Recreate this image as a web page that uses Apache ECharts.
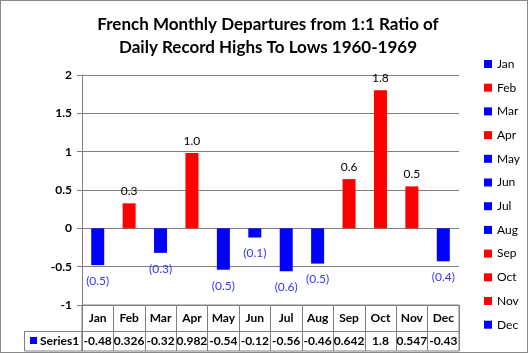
<!DOCTYPE html>
<html><head><meta charset="utf-8">
<script src="https://cdn.jsdelivr.net/npm/echarts@6/dist/echarts.min.js"></script>
<style>html,body{margin:0;padding:0;background:#fff}#c{width:528px;height:353px;box-sizing:border-box;border:1px solid #888}</style>
</head><body><div id="c"></div>
<script>
const months = ['Jan','Feb','Mar','Apr','May','Jun','Jul','Aug','Sep','Oct','Nov','Dec'];
const values = [-0.48, 0.326, -0.32, 0.982, -0.54, -0.12, -0.56, -0.46, 0.642, 1.8, 0.547, -0.43];
const tableLabels = ['-0.48','0.326','-0.32','0.982','-0.54','-0.12','-0.56','-0.46','0.642','1.8','0.547','-0.43'];
const yTicks = [-1, -0.5, 0, 0.5, 1, 1.5, 2];

const FONT = 'Lato';
const chart = echarts.init(document.getElementById('c'));
const series = months.map((m, i) => {
  const v = values[i];
  const col = v >= 0 ? '#ff0000' : '#0000ff';
  return {
    name: m, type: 'bar', stack: 'all', barWidth: 13,
    xAxisIndex: 0, yAxisIndex: 0,
    itemStyle: {color: col},
    data: months.map((_, j) => j === i ? v : '-'),
    label: {
      show: true,
      position: v >= 0 ? 'top' : 'bottom',
      distance: v >= 0 ? 6 : 10,
      color: v >= 0 ? '#000' : '#3535ff',
      fontFamily: FONT, fontSize: 12,
      formatter: p => v >= 0 ? v.toFixed(1) : '(' + Math.abs(v).toFixed(1) + ')'
    }
  };
});
series.push({type: 'line', xAxisIndex: 1, yAxisIndex: 1, data: [], silent: true});

chart.setOption({
  animation: false,
  title: {
    text: 'French Monthly Departures from 1:1 Ratio of\nDaily Record Highs To Lows 1960-1969',
    left: 262, top: 7, textAlign: 'center',
    textStyle: {fontFamily: FONT, fontWeight: 'bold', fontSize: 17, lineHeight: 23, color: '#000'}
  },
  legend: {
    orient: 'vertical', left: 478, top: 51,
    itemWidth: 8, itemHeight: 8, itemGap: 9.7,
    icon: 'rect',
    textStyle: {fontFamily: FONT, fontSize: 12, color: '#000', lineHeight: 14},
    data: months
  },
  grid: [
    {left: 81, top: 74, width: 377, height: 230},
    {left: 81, top: 304, width: 377, height: 46, show: true, borderColor: '#808080', borderWidth: 1}
  ],
  xAxis: [
    {type: 'category', gridIndex: 0, data: months, position: 'bottom',
     axisLine: {show: false}, axisTick: {show: false}, axisLabel: {show: false}},
    {type: 'category', gridIndex: 1, data: months, position: 'top',
     axisLine: {show: false}, axisTick: {show: false},
     axisLabel: {inside: true, interval: 0, hideOverlap: false, margin: 7, fontFamily: FONT, fontWeight: 'bold', fontSize: 12, color: '#000'},
     splitLine: {show: true, interval: 0, lineStyle: {color: '#808080'}}},
    {type: 'category', gridIndex: 1, data: tableLabels, position: 'bottom',
     axisLine: {show: false}, axisTick: {show: false},
     axisLabel: {inside: true, interval: 0, hideOverlap: false, margin: 4, fontFamily: FONT, fontWeight: 'bold', fontSize: 12, color: '#000'}}
  ],
  yAxis: [
    {type: 'value', gridIndex: 0, min: yTicks[0], max: yTicks[yTicks.length - 1], interval: 0.5,
     axisLine: {show: true, lineStyle: {color: '#808080'}},
     axisTick: {show: true, length: 5, lineStyle: {color: '#808080'}},
     axisLabel: {margin: 10, fontFamily: FONT, fontWeight: 'bold', fontSize: 12, color: '#000',
                 formatter: v => String(v)},
     splitLine: {show: true, lineStyle: {color: '#808080'}}},
    {type: 'value', gridIndex: 1, min: 0, max: 1, show: false}
  ],
  series: series,
  graphic: [
    {type: 'line', shape: {x1: 23, y1: 330.5, x2: 458, y2: 330.5}, style: {stroke: '#808080', lineWidth: 1}},
    {type: 'rect', shape: {x: 23.5, y: 330.5, width: 57.5, height: 19.5}, style: {fill: 'none', stroke: '#808080', lineWidth: 1}},
    {type: 'rect', shape: {x: 29, y: 336, width: 7, height: 7}, style: {fill: '#0000ff'}},
    {type: 'text', x: 39, y: 340, style: {text: 'Series1', fontFamily: FONT, fontWeight: 'bold', fontSize: 12, fill: '#000', verticalAlign: 'middle'}}
  ]
});
</script></body></html>
